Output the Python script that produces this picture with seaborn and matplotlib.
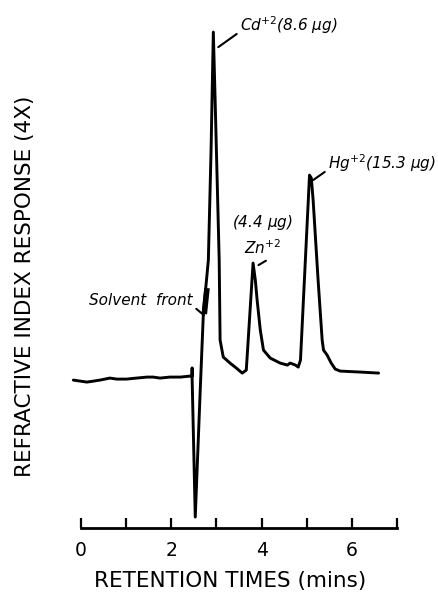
import matplotlib
matplotlib.use("Agg")
import matplotlib.pyplot as plt
import seaborn as sns
import pandas as pd

# ---- data ----
time = [-0.17, -0.02, 0.13, 0.28, 0.42, 0.64, 0.79, 1.01, 1.23, 1.46, 1.60, 1.75, 1.97, 2.20, 2.42,
        2.46, 2.46, 2.46, 2.53, 2.64, 2.71, 2.82, 2.88, 2.93, 2.97, 3.06, 3.08, 3.15, 3.30, 3.44,
        3.57, 3.66, 3.81, 3.86, 3.90, 3.97, 4.04, 4.19, 4.41, 4.57, 4.63, 4.75,
        4.81, 4.86, 5.06, 5.10, 5.14, 5.25, 5.34, 5.37, 5.45, 5.54, 5.63, 5.74, 6.19, 6.59]
response = [0.00, -0.01, -0.02, -0.01, 0.00, 0.02, 0.01, 0.01, 0.02, 0.03, 0.03, 0.02, 0.03, 0.03, 0.04,
            0.04, 0.12, 0.03, -1.37, -0.10, 0.67, 1.20, 2.30, 3.48, 2.80, 1.20, 0.40, 0.23, 0.17, 0.12,
            0.07, 0.10, 1.17, 1.00, 0.80, 0.50, 0.30, 0.22, 0.17, 0.15, 0.17, 0.15,
            0.13, 0.20, 2.05, 2.02, 1.80, 1.00, 0.40, 0.30, 0.25, 0.17, 0.11, 0.09, 0.08, 0.07]

solvent_front_time = [2.73, 2.79]
solvent_front_resp = [0.66, 0.92]

xticks = [0, 1, 2, 3, 4, 5, 6, 7]
xtick_labels = ["0", "", "2", "", "4", "", "6", ""]

df = pd.DataFrame({"time": time, "response": response})
sf = pd.DataFrame({"time": solvent_front_time, "response": solvent_front_resp})

sns.set_style("white")
plt.rcParams["font.family"] = ["DejaVu Sans"]
plt.rcParams["text.color"] = "black"
plt.rcParams["axes.labelcolor"] = "black"
plt.rcParams["xtick.color"] = "black"

fig = plt.figure(figsize=(4.38, 5.92), dpi=100)
ax = fig.add_axes([0.154, 0.108, 0.763, 0.858])

sns.lineplot(data=df, x="time", y="response", sort=False, estimator=None,
             color="black", linewidth=2.1, ax=ax)
sns.lineplot(data=sf, x="time", y="response", sort=False, estimator=None,
             color="black", linewidth=4, ax=ax, solid_capstyle="butt")

ax.set_xlim(-0.3, 7.1)
ax.set_ylim(-1.48, 3.6)

for s in ["left", "top", "right"]:
    ax.spines[s].set_visible(False)
ax.spines["bottom"].set_bounds(0, 7)
ax.spines["bottom"].set_linewidth(2)
ax.spines["bottom"].set_color("black")

ax.set_xticks(xticks)
ax.set_xticklabels(xtick_labels)
ax.set_yticks([])
ax.tick_params(axis="x", direction="in", length=7.5, width=1.6, color="black",
               labelcolor="black", labelsize=13.5, pad=9, bottom=True)

ax.set_xlabel("RETENTION TIMES (mins)", fontsize=15.5, color="black")
ax.xaxis.set_label_coords(0.487, -0.085)
ax.xaxis.label.set_va("top")
ax.set_ylabel("REFRACTIVE INDEX RESPONSE (4X)", fontsize=15.5, color="black")
ax.yaxis.set_label_coords(-0.098, 0.475)
ax.yaxis.label.set_va("bottom")

ann_kw = dict(fontsize=11, style="italic", color="black")
line_kw = dict(arrowstyle="-", color="black", lw=1.5, shrinkA=0, shrinkB=0)

ax.annotate(r"Cd$^{+2}$(8.6 $\mu$g)", xy=(3.04, 3.33), xytext=(3.52, 3.55),
            ha="left", va="center", arrowprops=dict(relpos=(0, 0.2), **line_kw), **ann_kw)
ax.annotate(r"Hg$^{+2}$(15.3 $\mu$g)", xy=(5.14, 2.0), xytext=(5.47, 2.17),
            ha="left", va="center", arrowprops=dict(relpos=(0, 0.2), **line_kw), **ann_kw)
ax.annotate(r"Zn$^{+2}$", xy=(3.93, 1.15), xytext=(3.6, 1.32),
            ha="left", va="center", arrowprops=dict(relpos=(0.75, 0.0), **line_kw), **ann_kw)
ax.text(3.35, 1.58, r"(4.4 $\mu$g)", ha="left", va="center", **ann_kw)
ax.annotate("Solvent  front", xy=(2.72, 0.65), xytext=(2.48, 0.80),
            ha="right", va="center", arrowprops=dict(relpos=(1, 0.1), **line_kw), **ann_kw)

fig.savefig("out.png", dpi=100)
